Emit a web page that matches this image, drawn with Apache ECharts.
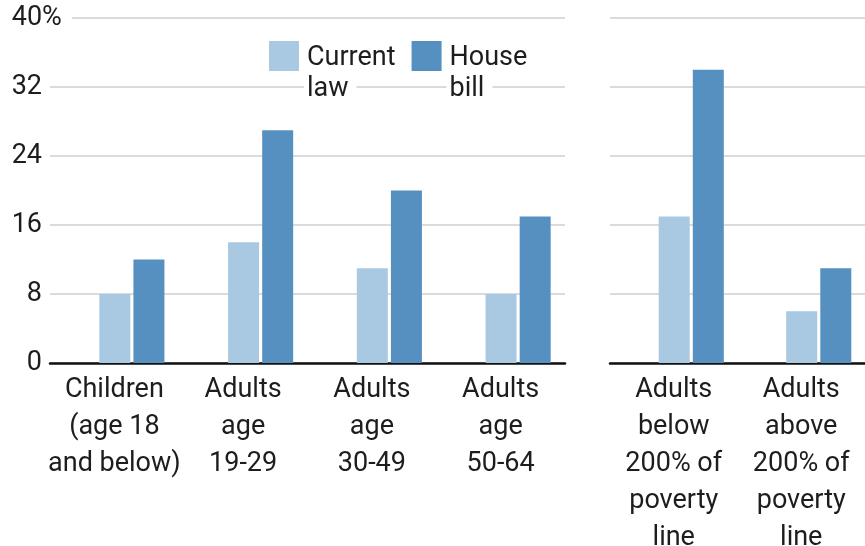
<!DOCTYPE html>
<html>
<head>
<meta charset="utf-8">
<script src="https://cdn.jsdelivr.net/npm/echarts@6/dist/echarts.min.js"></script>
<style>html,body{margin:0;padding:0;background:#fff}#c{width:865px;height:546px}</style>
</head>
<body>
<div id="c"></div>
<script>
var categoriesLeft = ['Children\n(age 18\nand below)', 'Adults\nage\n19-29', 'Adults\nage\n30-49', 'Adults\nage\n50-64'];
var currentLeft = [8, 14, 11, 8];
var houseLeft = [12, 27, 20, 17];
var categoriesRight = ['Adults\nbelow\n200% of\npoverty\nline', 'Adults\nabove\n200% of\npoverty\nline'];
var currentRight = [17, 6];
var houseRight = [34, 11];
var seriesNames = ['Current law', 'House bill'];
var yTicks = [0, 8, 16, 24, 32, 40];

var FONT = 'Roboto';
var TXT = '#1d1d1d';
var C1 = '#a9c8e1';
var C2 = '#5590c0';
var TOP = 18, H = 345;

var chart = echarts.init(document.getElementById('c'), null, {renderer: 'canvas'});

function axisY(gi, showLabels, showSplit) {
  return {
    type: 'value', gridIndex: gi, min: 0, max: 40, interval: 8,
    axisLine: {show: false}, axisTick: {show: false},
    splitLine: {show: showSplit, lineStyle: {color: '#cfcfcf', width: 1.5}},
    axisLabel: {
      show: showLabels, align: 'left', margin: 38,
      fontFamily: FONT, fontSize: 27, color: TXT,
      formatter: function (v) { return v === yTicks[yTicks.length - 1] ? '{n|' + v + '}{p|%}' : '{n|' + v + '}'; },
      rich: {
        n: {width: 30, align: 'right', fontFamily: FONT, fontSize: 27, color: TXT},
        p: {fontFamily: FONT, fontSize: 27, color: TXT, backgroundColor: '#fff', padding: [0, 10, 0, 0]}
      }
    }
  };
}
function axisX(gi, cats, show) {
  return {
    type: 'category', gridIndex: gi, data: cats, show: show,
    axisLine: {show: true, onZero: true, lineStyle: {color: '#111', width: 2.5}},
    axisTick: {show: false},
    axisLabel: {fontFamily: FONT, fontSize: 27, color: TXT, lineHeight: 37, margin: 9, interval: 0}
  };
}
function grid(left) {
  return {left: left, top: TOP, width: left > 600 ? 255 : 515, height: H, outerBoundsMode: 'none', containLabel: false};
}

var option = {
  animation: false,
  backgroundColor: '#fff',
  grid: [grid(50), grid(67.5), grid(610), grid(627.5)],
  xAxis: [
    axisX(0, categoriesLeft, true),
    axisX(1, categoriesLeft, false),
    axisX(2, categoriesRight, true),
    axisX(3, categoriesRight, false)
  ],
  yAxis: [
    axisY(0, true, true),
    Object.assign(axisY(1, false, false), {show: false}),
    axisY(2, false, true),
    Object.assign(axisY(3, false, false), {show: false})
  ],
  legend: {
    data: seriesNames,
    left: 269, top: 7, padding: 0,
    itemWidth: 30, itemHeight: 30, itemGap: 8,
    icon: 'rect',
    selectedMode: false,
    formatter: function (name) {
      var parts = name.split(' ');
      return '{a|' + parts[0] + '}\n{b|' + parts[1] + '}';
    },
    textStyle: {
      fontFamily: FONT, fontSize: 27, color: TXT, lineHeight: 31,
      padding: [36, 0, 0, 0],
      rich: {
        a: {fontFamily: FONT, fontSize: 27, color: TXT, lineHeight: 31, padding: [0, 8, 0, 3]},
        b: {fontFamily: FONT, fontSize: 27, color: TXT, lineHeight: 31, padding: [0, 8, 0, 3], backgroundColor: '#fff'}
      }
    }
  },
  series: [
    {name: seriesNames[0], type: 'bar', xAxisIndex: 1, yAxisIndex: 1, data: currentLeft, barWidth: 31, barGap: '10%', itemStyle: {color: C1}},
    {name: seriesNames[1], type: 'bar', xAxisIndex: 1, yAxisIndex: 1, data: houseLeft, barWidth: 31, barGap: '10%', itemStyle: {color: C2}},
    {name: seriesNames[0], type: 'bar', xAxisIndex: 3, yAxisIndex: 3, data: currentRight, barWidth: 31, barGap: '10%', itemStyle: {color: C1}},
    {name: seriesNames[1], type: 'bar', xAxisIndex: 3, yAxisIndex: 3, data: houseRight, barWidth: 31, barGap: '10%', itemStyle: {color: C2}}
  ]
};
chart.setOption(option);
</script>
</body>
</html>
